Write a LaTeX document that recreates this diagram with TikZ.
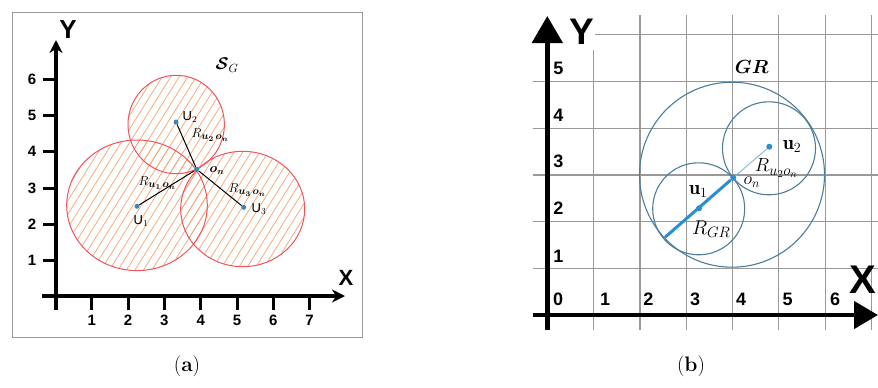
\RequirePackage{fix-cm}
\documentclass[tikz,border=0pt]{standalone}
\usepackage{amsmath}
\usepackage{bm}
\usepackage{fontspec}
\setsansfont{Liberation Sans}
\usetikzlibrary{arrows.meta}
\definecolor{hatchc}{HTML}{F4A574}
\definecolor{circR}{HTML}{F0555C}
\definecolor{dotc}{HTML}{3A87B5}
\definecolor{circB}{HTML}{4E7E9A}
\definecolor{lineB}{HTML}{2A8FD0}
\definecolor{lineBl}{HTML}{7DB8E0}
\definecolor{gridc}{HTML}{999999}
\newcommand{\rsubA}[1]{$R$\raisebox{-2.5pt}{\fontsize{10.5}{10.5}\selectfont$\bm{#1}$}}
\newcommand{\rsubB}[2]{$R$\raisebox{-3.5pt}{\fontsize{#1}{#1}\selectfont$#2$}}
\begin{document}
\begin{tikzpicture}[x=1pt,y=-1pt,
  hatchline/.style={hatchc,line width=0.7pt},
  redcirc/.style={circR,line width=1pt},
  bluecirc/.style={circB,line width=1.1pt},
  dotA/.style={circle,fill=dotc,inner sep=0pt,minimum size=5pt},
  dotB/.style={circle,fill=lineB,inner sep=0pt,minimum size=6pt},
  ticklblA/.style={font=\sffamily\bfseries\fontsize{15}{15}\selectfont},
  ticklblB/.style={font=\sffamily\bfseries\fontsize{18}{18}\selectfont},
  gridline/.style={gridc,line width=1.2pt},
  ulbl/.style={font=\sffamily\fontsize{13}{13}\selectfont,inner sep=1pt},
  rlbl/.style={font=\fontsize{13}{13}\selectfont,inner sep=1pt},
  blbl/.style={font=\fontsize{20}{20}\selectfont,inner sep=1pt},
  caplbl/.style={font=\fontsize{21}{21}\selectfont}
]
\useasboundingbox (0,0) rectangle (878,388);
\fill[white] (0,0) rectangle (878,388);

% ---------------- panel (a)
\draw[gray!80,line width=1pt] (12,12) rectangle (362,337);

\foreach \cx/\cy/\rx/\ry in {137/205.3/70.3/65.3, 176.2/124.5/48.2/49.2, 242.7/209/62/57.7}{
  \begin{scope}
    \clip (\cx,\cy) ellipse [x radius=\rx pt, y radius=\ry pt];
    \foreach \a in {-90,-81.5,...,330} \draw[hatchline] (\a,290) -- ++(137.5,-220);
  \end{scope}
}
\draw[redcirc] (137,205.3) ellipse [x radius=70.3pt, y radius=65.3pt];
\draw[redcirc] (176.2,124.5) ellipse [x radius=48.2pt, y radius=49.2pt];
\draw[redcirc] (242.7,209) ellipse [x radius=62pt, y radius=57.7pt];

% axes (a)
\coordinate (ayb) at (56,310);
\coordinate (ayt) at (56,40);
\coordinate (axl) at (42,296);
\coordinate (axr) at (345,296);
\draw[line width=3.5pt,-{Stealth[length=13pt,width=13pt]}] (ayb) -- (ayt);
\draw[line width=3.5pt,-{Stealth[length=13pt,width=13pt]}] (axl) -- (axr);
\foreach \k in {1,...,7}{
  \draw[line width=3pt] (55.5+36.3*\k,296) -- (55.5+36.3*\k,310);
  \node[ticklblA] (xa\k) at (55.5+36.3*\k,320) {\k};
}
\foreach \k in {1,...,6}{
  \draw[line width=3pt] (43,297-36.3*\k) -- (56,297-36.3*\k);
  \node[ticklblA] (ya\k) at (32,297-36.3*\k) {\k};
}
\node[font=\sffamily\bfseries\fontsize{26}{26}\selectfont] (Ya) at (68,30) {Y};
\node[font=\sffamily\bfseries\fontsize{22}{22}\selectfont] (Xa) at (346,278) {X};

% points and connectors (a)
\node[dotA] (u1) at (137,206.3) {};
\node[dotA] (u2) at (176,122) {};
\node[dotA] (u3) at (243.7,207.3) {};
\node[dotA] (on) at (196.7,169.3) {};
\draw[line width=1pt] (u1) -- (on);
\draw[line width=1pt] (u2) -- (on);
\draw[line width=1pt] (on) -- (u3);
\node[ulbl] (lu2) at (190,117) {U$_2$};
\node[ulbl] (lu1) at (141,221) {U$_1$};
\node[ulbl] (lu3) at (259,209) {U$_3$};
\node[rlbl] (lon) at (217,171) {$\bm{o_n}$};
\node[rlbl] (r2) at (210,135) {\rsubA{u_2\,o_n}};
\node[rlbl] (r1) at (157,183) {\rsubA{u_1\,o_n}};
\node[rlbl] (r3) at (247,190) {\rsubA{u_3\,o_n}};
\node[font=\fontsize{17}{17}\selectfont] (sg) at (227,65) {$\bm{\mathcal{S}}_{G}$};

% ---------------- panel (b)
\foreach \k in {2,...,7}
  \draw[gridline] (547.3+46.3*\k,15) -- (547.3+46.3*\k,330);
\draw[gridline] (593.6,50) -- (593.6,330);
\foreach \k in {1,...,5}
  \draw[gridline] (532.7,315-46.7*\k) -- (878,315-46.7*\k);
\draw[gridline] (595,34.8) -- (878,34.8);

\node[font=\sffamily\bfseries\fontsize{37}{37}\selectfont,inner sep=0pt] (Yb) at (581.7,31.7) {Y};
\node[font=\sffamily\bfseries\fontsize{40}{40}\selectfont,inner sep=0pt] (Xb) at (863,280) {X};

\coordinate (byb) at (547.3,330);
\coordinate (byt) at (547.3,16);
\coordinate (bxl) at (532.7,315);
\coordinate (bxr) at (878,315);
\draw[line width=5pt,-{Triangle[length=27pt,width=30pt]}] (byb) -- (byt);
\draw[line width=4.5pt,-{Triangle[length=24pt,width=27pt]}] (bxl) -- (bxr);

\foreach \k/\y in {1/256.7,2/208.3,3/161.7,4/115,5/68.3}
  \node[ticklblB] (yb\k) at (558.3,\y) {\k};
\foreach \k/\x in {0/558,1/605,2/648.3,3/695,4/741,5/787.7,6/835}
  \node[ticklblB] (xb\k) at (\x,299) {\k};

\draw[bluecirc] (732,174.7) circle [radius=92.5pt];
\draw[bluecirc] (698.7,208.8) circle [radius=46pt];
\draw[bluecirc] (769,148.3) circle [radius=46.5pt];

\node[dotB] (bon) at (733.3,177.7) {};
\node[dotB] (bu1) at (699,208.3) {};
\node[dotB] (bu2) at (769.3,146.7) {};
\coordinate (bend) at (665,237.3);
\draw[lineB,line width=3pt] (bend) -- (bon);
\draw[lineBl,line width=0.9pt] (bon) -- (bu2);

\node[font=\fontsize{19}{19}\selectfont] (gr) at (751.7,66.7) {$\bm{GR}$};
\node[blbl] (lbu1) at (698.3,191.7) {$\mathbf{u}_1$};
\node[blbl] (lbu2) at (792,146.7) {$\mathbf{u}_2$};
\node[blbl] (rgr) at (711,229) {\rsubB{15}{GR}};
\node[font=\fontsize{19}{19}\selectfont,inner sep=1pt] (ru2) at (776,168) {\rsubB{15}{u_2o_n}};
\node[font=\fontsize{18}{18}\selectfont,inner sep=1pt] (bonl) at (751.7,182) {$o_n$};

% captions
\node[caplbl] (capa) at (187,366) {(\textbf{a})};
\node[caplbl] (capb) at (691,366) {(\textbf{b})};
\end{tikzpicture}
\end{document}
